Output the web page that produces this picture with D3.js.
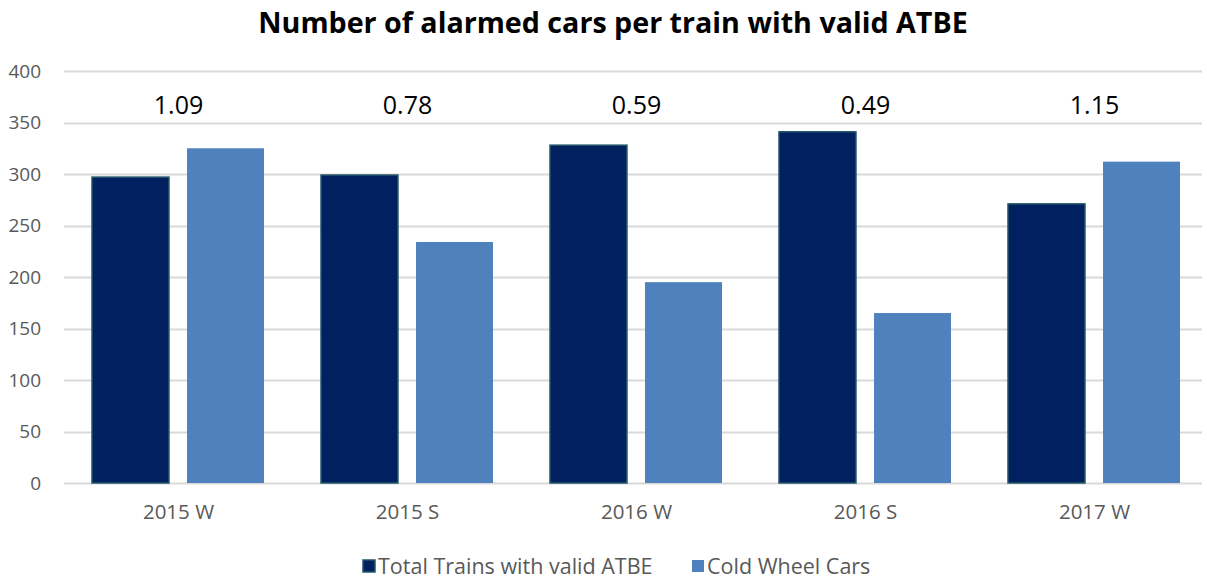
<!DOCTYPE html>
<html>
<head>
<meta charset="utf-8">
<script src="https://cdn.jsdelivr.net/npm/d3@7"></script>
<style>
body { margin: 0; background: #fff; }
text { font-family: "Open Sans", sans-serif; }
</style>
</head>
<body>
<div id="chart"></div>
<script>
// data
var categories = ["2015 W", "2015 S", "2016 W", "2016 S", "2017 W"];
var seriesNames = ["Total Trains with valid ATBE", "Cold Wheel Cars"];
var totalTrains = [297, 299, 328, 341, 271];
var coldWheel = [325, 234, 195, 165, 312];
var ratioLabels = ["1.09", "0.78", "0.59", "0.49", "1.15"];
var yTicks = [0, 50, 100, 150, 200, 250, 300, 350, 400];

var W = 1207, H = 579;
var margin = {top: 71, right: 5, bottom: 96, left: 64};
var width = W - margin.left - margin.right;
var height = H - margin.top - margin.bottom;
var colors = ["#002060", "#4f81bd"];

var svg = d3.select("#chart").append("svg")
	.attr("width", W)
	.attr("height", H);

var g = svg.append("g")
	.attr("transform", "translate(" + margin.left + "," + margin.top + ")");

var x0 = d3.scaleBand().domain(categories).range([0, 5 * 229]);
var x1 = d3.scaleBand().domain([0, 1]).range([28, 200]).paddingInner(0.19);
var y = d3.scaleLinear().domain([0, 400]).range([height, 0]);

//gridlines
g.selectAll(".grid")
	.data(yTicks)
	.enter().append("line")
	.attr("x1", 0).attr("x2", width)
	.attr("y1", function(d) { return Math.round(y(d)) + 0.5; })
	.attr("y2", function(d) { return Math.round(y(d)) + 0.5; })
	.style("stroke", "#d9d9d9")
	.style("stroke-width", 2);

//y labels
g.selectAll(".yLab")
	.data(yTicks)
	.enter().append("text")
	.attr("x", -23)
	.attr("y", function(d) { return y(d); })
	.attr("dy", "0.35em")
	.style("text-anchor", "end")
	.style("font-size", "19px")
	.style("fill", "#595959")
	.text(function(d) { return d; });

//bars
var groups = g.selectAll(".cat")
	.data(categories)
	.enter().append("g")
	.attr("transform", function(d) { return "translate(" + x0(d) + ",0)"; });

groups.append("rect")
	.attr("x", x1(0))
	.attr("width", x1.bandwidth())
	.attr("y", function(d, i) { return y(totalTrains[i]); })
	.attr("height", function(d, i) { return y(0) - y(totalTrains[i]); })
	.style("fill", colors[0])
	.style("stroke", "#23566a")
	.style("stroke-width", 1.5);

groups.append("rect")
	.attr("x", x1(1))
	.attr("width", x1.bandwidth())
	.attr("y", function(d, i) { return y(coldWheel[i]); })
	.attr("height", function(d, i) { return y(0) - y(coldWheel[i]); })
	.style("fill", colors[1]);

//ratio labels
groups.append("text")
	.attr("x", x0.bandwidth() / 2)
	.attr("y", y(367))
	.attr("dy", "0.35em")
	.style("text-anchor", "middle")
	.style("font-size", "25px")
	.style("fill", "#000")
	.text(function(d, i) { return ratioLabels[i]; });

//x labels
groups.append("text")
	.attr("x", x0.bandwidth() / 2)
	.attr("y", height + 29)
	.attr("dy", "0.35em")
	.style("text-anchor", "middle")
	.style("font-size", "20.5px")
	.style("fill", "#595959")
	.text(function(d) { return d; });

//title
var title = svg.append("text")
	.attr("x", 613)
	.attr("y", 23)
	.attr("dy", "0.35em")
	.style("text-anchor", "middle")
	.style("font-weight", "bold")
	.style("font-size", "25px")
	.style("fill", "#000")
	.text("Number of alarmed cars per train with valid ATBE");
var tw = title.node().getComputedTextLength();
title.style("font-size", (25 * 710 / tw) + "px");

//legend
var legend = svg.append("g").attr("transform", "translate(0,566)");
var legX = [363, 692];
seriesNames.forEach(function(s, i) {
	legend.append("rect")
		.attr("x", legX[i]).attr("y", -6)
		.attr("width", 12).attr("height", 12)
		.style("fill", colors[i])
		.style("stroke", i == 0 ? "#23566a" : "none")
		.style("stroke-width", 1.5);
	legend.append("text")
		.attr("x", legX[i] + 15)
		.attr("y", 0)
		.attr("dy", "0.35em")
		.style("font-size", "21.5px")
		.style("fill", "#595959")
		.text(s);
});
</script>
</body>
</html>
